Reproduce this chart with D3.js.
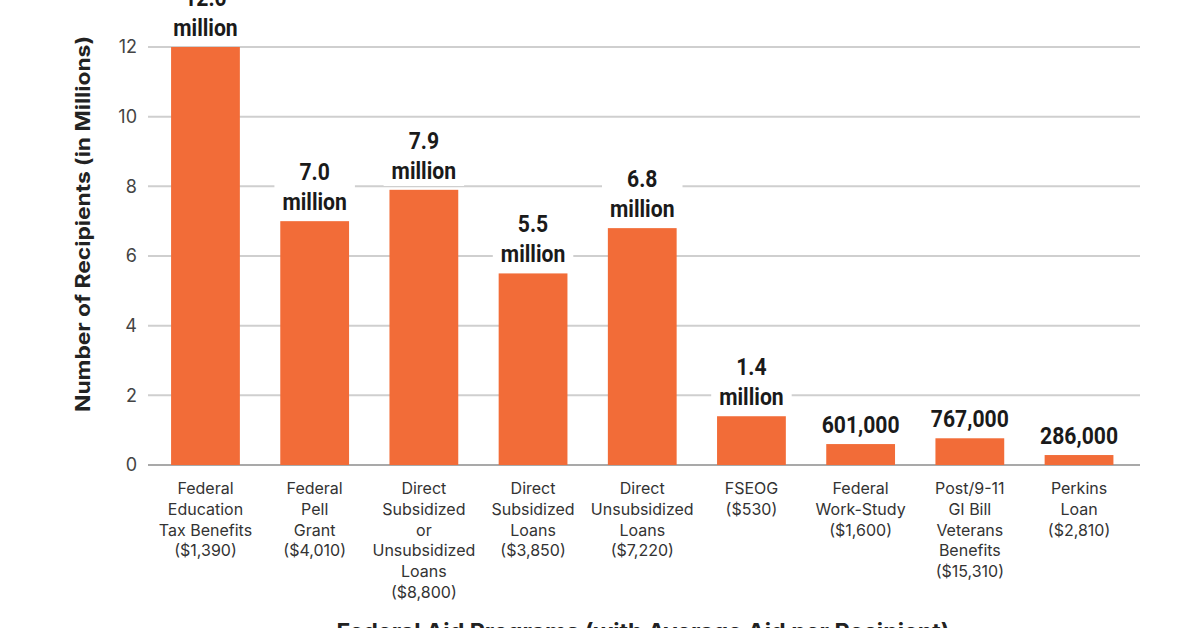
<!DOCTYPE html>
<html><head><meta charset="utf-8">
<script src="https://cdn.jsdelivr.net/npm/d3@7"></script>
<style>
html,body{margin:0;padding:0;background:#fff;}
svg{display:block;}
</style></head>
<body>
<script>
const categories = [
  ["Federal","Education","Tax Benefits","($1,390)"],
  ["Federal","Pell","Grant","($4,010)"],
  ["Direct","Subsidized","or","Unsubsidized","Loans","($8,800)"],
  ["Direct","Subsidized","Loans","($3,850)"],
  ["Direct","Unsubsidized","Loans","($7,220)"],
  ["FSEOG","($530)"],
  ["Federal","Work-Study","($1,600)"],
  ["Post/9-11","GI Bill","Veterans","Benefits","($15,310)"],
  ["Perkins","Loan","($2,810)"]
];
const values = [12.0, 7.0, 7.9, 5.5, 6.8, 1.4, 0.601, 0.767, 0.286];
const valueLabels = [
  ["12.0","million"],["7.0","million"],["7.9","million"],["5.5","million"],
  ["6.8","million"],["1.4","million"],["601,000"],["767,000"],["286,000"]
];
const yTicks = [0,2,4,6,8,10,12];
const yTitle = "Number of Recipients (in Millions)";
const xTitle = "Federal Aid Programs (with Average Aid per Recipient)";

const W = 1200, H = 628;
const svg = d3.select("body").append("svg").attr("width", W).attr("height", H);

const y = d3.scaleLinear().domain([0, 12]).range([465, 47]);
const x = d3.scaleBand().domain(d3.range(values.length))
  .range([150, 1134.5]).paddingInner(0.37).paddingOuter(0.193);

const gridX0 = 148, gridX1 = 1140;

// gridlines
svg.append("g").selectAll("line").data(yTicks).join("line")
  .attr("x1", gridX0).attr("x2", gridX1)
  .attr("y1", d => y(d)).attr("y2", d => y(d))
  .attr("stroke", d => d === 0 ? "#a9a9a9" : "#cfcfcf")
  .attr("stroke-width", 2);

// y tick labels
svg.append("g").selectAll("text").data(yTicks).join("text")
  .attr("x", 137).attr("y", d => y(d)).attr("dy", "0.35em")
  .attr("text-anchor", "end")
  .attr("font-family", "Inter, Roboto, sans-serif")
  .attr("font-size", 18).attr("fill", "#444")
  .text(d => d);

// bars
svg.append("g").selectAll("rect").data(values).join("rect")
  .attr("x", (d, i) => x(i)).attr("width", x.bandwidth())
  .attr("y", d => y(d)).attr("height", d => y(0) - y(d))
  .attr("fill", "#f26c38");

// value labels
const lineH = 30;
const sx = 0.92;
const lg = svg.append("g");
values.forEach((v, i) => {
  const lines = valueLabels[i];
  const cx = x(i) + x.bandwidth() / 2;
  const baseBottom = y(v) - 11;
  const g = lg.append("g").attr("transform", `translate(${cx},0)`);
  const bg = g.append("rect").attr("fill", "#fff");
  const t = g.append("text")
    .attr("transform", `scale(${sx},1)`)
    .attr("text-anchor", "middle")
    .attr("font-family", "Roboto, sans-serif")
    .attr("font-weight", "bold")
    .attr("font-size", 23)
    .attr("fill", "#1a1a1a");
  lines.forEach((ln, k) => {
    t.append("tspan").attr("x", 0)
      .attr("y", baseBottom - (lines.length - 1 - k) * lineH)
      .text(ln);
  });
  const bb = t.node().getBBox();
  const w = bb.width * sx;
  bg.attr("x", -w / 2 - 8).attr("y", bb.y - 2)
    .attr("width", w + 16).attr("height", bb.height + 4);
});

// x category labels
const xg = svg.append("g");
categories.forEach((lines, i) => {
  const cx = x(i) + x.bandwidth() / 2;
  const t = xg.append("text")
    .attr("text-anchor", "middle")
    .attr("font-family", "Inter, Roboto, sans-serif")
    .attr("font-size", 16).attr("fill", "#333");
  lines.forEach((ln, k) => {
    t.append("tspan").attr("x", cx).attr("y", 494 + k * 20.8).text(ln);
  });
});

// y title
svg.append("text")
  .attr("transform", "translate(90,224) rotate(-90)")
  .attr("text-anchor", "middle")
  .attr("font-family", "Inter, Roboto, sans-serif")
  .attr("font-weight", "bold").attr("font-size", 20).attr("fill", "#222")
  .attr("textLength", 376).attr("lengthAdjust", "spacingAndGlyphs")
  .text(yTitle);

// x title
svg.append("text")
  .attr("x", 643).attr("y", 639)
  .attr("text-anchor", "middle")
  .attr("font-family", "Inter, Roboto, sans-serif")
  .attr("font-weight", "bold").attr("font-size", 22).attr("fill", "#222")
  .attr("textLength", 613).attr("lengthAdjust", "spacingAndGlyphs")
  .text(xTitle);
</script>
</body></html>
